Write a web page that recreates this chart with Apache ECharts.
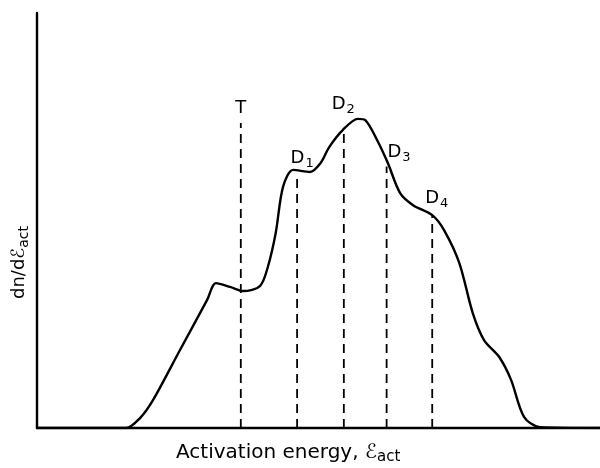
<!DOCTYPE html>
<html><head><meta charset="utf-8">
<script src="https://cdn.jsdelivr.net/npm/echarts@6/dist/echarts.min.js"></script>
<style>html,body{margin:0;padding:0;background:#fff}#c{width:600px;height:468px}</style>
</head><body><div id="c"></div>
<script>
// Distribution curve (arbitrary units)
const curveX = [0, 15.8, 18.3, 20.6, 25.4, 30.2, 31.8, 34.3, 36.6, 39.6, 41.0, 42.4, 43.7, 45.5, 48.5, 50.4, 51.9, 54.3, 57.0, 58.3, 60.4, 62.3, 64.5, 66.8, 70.2, 72.3, 75.0, 77.4, 79.4, 82.1, 84.2, 86.5, 89.3, 100];
const curveY = [0, 0, 2.4, 6.7, 18.8, 30.8, 34.9, 34.0, 33.0, 34.2, 38.8, 47.0, 58.1, 62.2, 61.7, 63.9, 67.7, 71.8, 74.5, 74.2, 69.4, 63.9, 56.6, 53.7, 51.3, 47.7, 39.8, 27.7, 21.2, 17.1, 11.6, 2.7, 0.2, 0];
// Dashed marker lines
const markNames = ['T', 'D1', 'D2', 'D3', 'D4'];
const markX = [36.2, 46.2, 54.5, 62.1, 70.2];
const markTop = [73.5, 61.0, 72.3, 63.0, 51.3];
// Label anchor positions
const labelX = [36.2, 47.1, 54.4, 64.3, 71.0];
const labelY = [77.1, 65.1, 78.1, 66.5, 55.4];

const chart = echarts.init(document.getElementById('c'));
const font = 'DejaVu Sans';
const series = [{
  type: 'line', data: curveX.map((x, i) => [x, curveY[i]]), smooth: 0.3,
  showSymbol: false, lineStyle: { color: '#000', width: 2.4 }, z: 3
}];
markX.forEach((x, i) => {
  series.push({
    type: 'line', data: [[x, 0], [x, markTop[i]]], showSymbol: false,
    lineStyle: { color: '#000', width: 1.8, type: [9, 6] }, z: 2
  });
});
series.push({
  type: 'scatter', symbolSize: 0, itemStyle: { opacity: 1, color: '#000' },
  data: labelX.map((x, i) => ({ value: [x, labelY[i]], name: markNames[i] })),
  label: {
    show: true, position: 'inside', color: '#000', opacity: 1, textBorderWidth: 0,
    formatter: p => p.name.length > 1 ? '{a|' + p.name[0] + '}{b|' + p.name.slice(1) + '}' : '{a|' + p.name + '}',
    rich: {
      a: { fontFamily: font, fontSize: 18, color: '#000', lineHeight: 22 },
      b: { fontFamily: font, fontSize: 13, color: '#000', lineHeight: 22, padding: [12, 0, 0, 1] }
    }
  }
});
chart.setOption({
  animation: false,
  grid: { left: 37, right: 0, top: 13, bottom: 40 },
  xAxis: { type: 'value', min: 0, max: 100, axisLine: { lineStyle: { color: '#000', width: 2.4 } },
    axisTick: { show: false }, axisLabel: { show: false }, splitLine: { show: false } },
  yAxis: { type: 'value', min: 0, max: 100, axisLine: { show: true, lineStyle: { color: '#000', width: 2.4 } },
    axisTick: { show: false }, axisLabel: { show: false }, splitLine: { show: false } },
  series: series,
  graphic: [
    { type: 'text', left: 176, top: 440, style: {
      text: '{n|Activation energy, }{e|ℰ}{s|act}',
      rich: {
        n: { fontFamily: font, fontSize: 20, fill: '#000', lineHeight: 26 },
        e: { fontFamily: font, fontSize: 20, fill: '#000', lineHeight: 26 },
        s: { fontFamily: font, fontSize: 15, fill: '#000', lineHeight: 26, padding: [10, 0, 0, 0] }
      } } },
    { type: 'text', x: 7, y: 299, rotation: Math.PI / 2, style: {
      text: '{n|dn/d}{e|ℰ}{s|act}',
      rich: {
        n: { fontFamily: font, fontSize: 18, fill: '#000', lineHeight: 24 },
        e: { fontFamily: font, fontSize: 18, fill: '#000', lineHeight: 24 },
        s: { fontFamily: font, fontSize: 14, fill: '#000', lineHeight: 24, padding: [10, 0, 0, 0] }
      } } }
  ]
});
</script></body></html>
